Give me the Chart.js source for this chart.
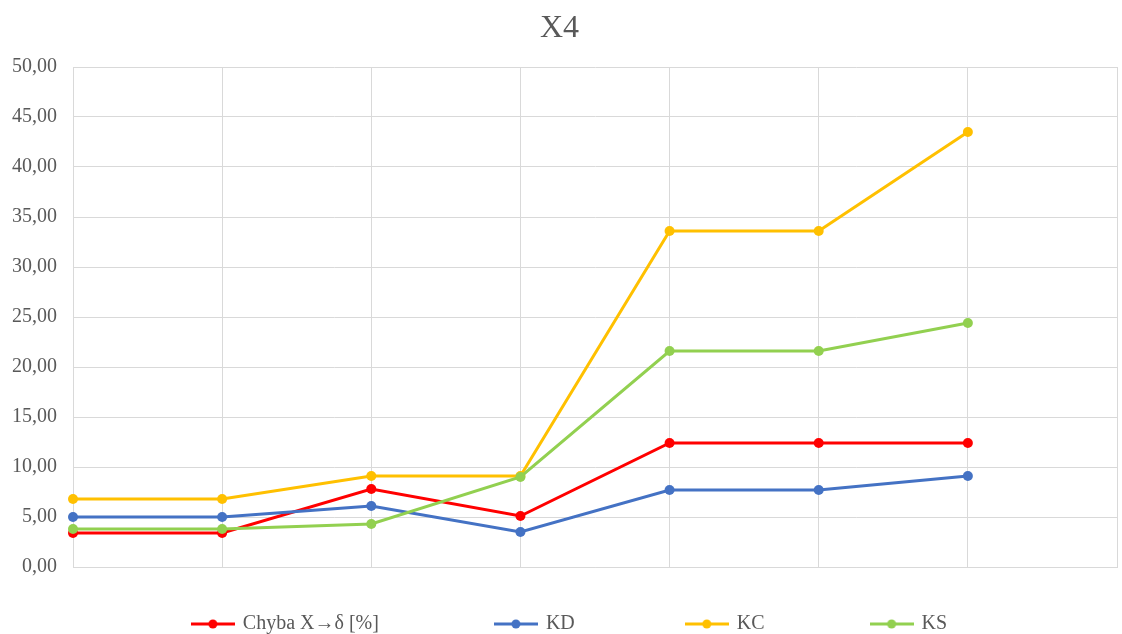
<!DOCTYPE html>
<html>
<head>
<meta charset="utf-8">
<script src="https://cdn.jsdelivr.net/npm/chart.js@4.4.0/dist/chart.umd.min.js"></script>
<style>
  html, body { margin: 0; padding: 0; background: #fff; overflow: hidden; }
  #wrap { width: 1122px; height: 644px; }
</style>
</head>
<body>
<div id="wrap"><canvas id="x4Chart"></canvas></div>
<script>
// categories (x ticks are not shown in the original)
const categories = ['1', '2', '3', '4', '5', '6', '7', '8'];

// series values
const chyba = [3.4, 3.4, 7.8, 5.1, 12.4, 12.4, 12.4];
const kd = [5.0, 5.0, 6.1, 3.5, 7.7, 7.7, 9.1];
const kc = [6.8, 6.8, 9.1, 9.1, 33.6, 33.6, 43.5];
const ks = [3.8, 3.8, 4.3, 9.0, 21.6, 21.6, 24.4];

const seriesNames = ['Chyba X\u2192\u03b4 [%]', 'KD', 'KC', 'KS'];

// y axis
const yMin = 0;
const yMax = 50;
const yStep = 5;

const SERIF = "'Liberation Serif', 'Times New Roman', serif";
const TEXT = '#595959';
const GRID = '#D9D9D9';

// spaces appended to legend texts to spread the items like the original
const legendGaps = [23, 22, 21, 10];

function legendMarker(color) {
  const c = document.createElement('canvas');
  c.width = 44;
  c.height = 12;
  const ctx = c.getContext('2d');
  ctx.strokeStyle = color;
  ctx.lineWidth = 3;
  ctx.beginPath();
  ctx.moveTo(0, 6);
  ctx.lineTo(44, 6);
  ctx.stroke();
  ctx.fillStyle = color;
  ctx.beginPath();
  ctx.arc(22, 6, 4.5, 0, Math.PI * 2);
  ctx.fill();
  return c;
}

function series(label, data, color, order) {
  return {
    label: label,
    data: data,
    borderColor: color,
    backgroundColor: color,
    borderWidth: 3,
    pointRadius: 5,
    pointHoverRadius: 5,
    pointBorderWidth: 0,
    pointBackgroundColor: color,
    tension: 0,
    fill: false,
    order: order,
  };
}

const datasets = [
  series(seriesNames[0], chyba, '#FF0000', 4),
  series(seriesNames[1], kd, '#4472C4', 3),
  series(seriesNames[2], kc, '#FFC000', 2),
  series(seriesNames[3], ks, '#92D050', 1),
];

new Chart(document.getElementById('x4Chart').getContext('2d'), {
  type: 'line',
  data: {
    labels: categories,
    datasets: datasets,
  },
  options: {
    responsive: true,
    maintainAspectRatio: false,
    animation: false,
    layout: {
      padding: { left: 0, right: 3, top: 0, bottom: 0 },
    },
    plugins: {
      tooltip: { enabled: false },
      title: {
        display: true,
        text: 'X4',
        color: TEXT,
        font: { family: SERIF, size: 32, weight: 'normal' },
        padding: { top: 9, bottom: 19.6 },
      },
      legend: {
        position: 'bottom',
        fullSize: false,
        labels: {
          usePointStyle: true,
          pointStyleWidth: 40,
          padding: 2,
          color: TEXT,
          font: { family: SERIF, size: 20 },
          generateLabels: (chart) => chart.data.datasets.map((ds, i) => ({
            text: ds.label + ' '.repeat(legendGaps[i]),
            fillStyle: ds.borderColor,
            strokeStyle: ds.borderColor,
            lineWidth: 0,
            pointStyle: legendMarker(ds.borderColor),
            fontColor: TEXT,
            hidden: !chart.isDatasetVisible(i),
            datasetIndex: i,
          })),
        },
      },
    },
    scales: {
      x: {
        type: 'category',
        offset: false,
        grid: { color: GRID, drawTicks: false },
        border: { color: GRID },
        ticks: { display: false },
        afterFit: (scale) => {
          scale.height = 45;
          scale.paddingLeft = 0;
          scale.paddingRight = 0;
        },
      },
      y: {
        min: yMin,
        max: yMax,
        grid: { color: GRID, drawTicks: false },
        border: { color: GRID },
        ticks: {
          stepSize: yStep,
          padding: 16,
          color: TEXT,
          font: { family: SERIF, size: 20 },
          callback: (v) => v.toFixed(2).replace('.', ','),
        },
        afterFit: (scale) => { scale.width = 73; },
      },
    },
  },
});
</script>
</body>
</html>
